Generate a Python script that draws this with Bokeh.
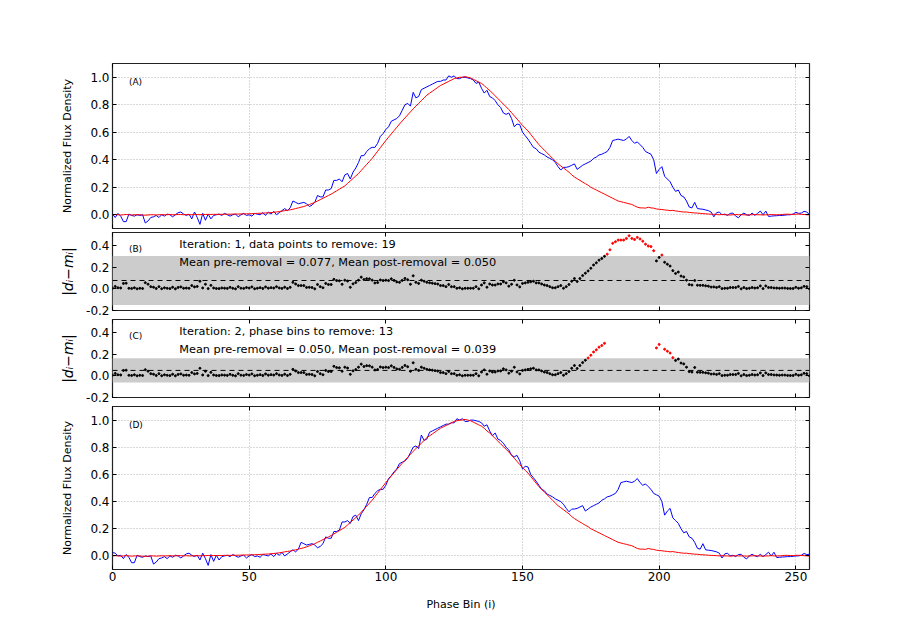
import numpy as np
from bokeh.plotting import figure
from bokeh.models import (Range1d, FixedTicker, PrintfTickFormatter, LinearAxis,
                          BoxAnnotation, Span, Label, ColumnDataSource, Grid)
from bokeh.layouts import column
from bokeh.embed import file_html
from bokeh.resources import INLINE

# ---------------- data ----------------
phase_bin = list(range(256))

flux = [
    0.005, -0.02, 0.01, -0.01, -0.05, -0.05, 0.005, -0.005, -0.01, 0.0,
    -0.005, 0.0, -0.06, -0.045, -0.02, -0.015, -0.005, -0.02, 0.0, -0.01,
    0.005, 0.0, -0.015, 0.0, 0.015, 0.02, 0.005, -0.005, 0.005, -0.03,
    0.02, -0.02, -0.07, 0.01, -0.04, 0.005, -0.03, -0.005, 0.0, 0.005,
    -0.005, 0.01, 0.0, -0.01, 0.0, 0.005, -0.015, 0.0, 0.01, -0.005,
    0.0, -0.01, 0.01, 0.005, 0.0, 0.015, -0.005, 0.02, 0.005, 0.025,
    0.0, 0.015, 0.03, 0.045, 0.03, 0.05, 0.10, 0.09, 0.08, 0.085,
    0.09, 0.08, 0.06, 0.07, 0.09, 0.14, 0.13, 0.13, 0.18, 0.18,
    0.19, 0.25, 0.25, 0.26, 0.24, 0.29, 0.30, 0.26, 0.31, 0.34,
    0.38, 0.43, 0.43, 0.46, 0.48, 0.49, 0.49, 0.52, 0.57, 0.59,
    0.62, 0.64, 0.68, 0.69, 0.70, 0.72, 0.76, 0.80, 0.81, 0.79,
    0.89, 0.85, 0.86, 0.91, 0.92, 0.93, 0.94, 0.95, 0.96, 0.97,
    0.97, 0.98, 0.98, 1.01, 1.00, 1.01, 0.99, 0.99, 1.00, 1.00,
    0.995, 0.99, 0.98, 0.955, 0.965, 0.92, 0.885, 0.905, 0.86, 0.85,
    0.83, 0.80, 0.78, 0.74, 0.73, 0.74, 0.70, 0.64, 0.66, 0.655,
    0.60, 0.575, 0.55, 0.52, 0.49, 0.48, 0.455, 0.445, 0.435, 0.42,
    0.41, 0.40, 0.38, 0.35, 0.325, 0.345, 0.345, 0.35, 0.36, 0.37,
    0.33, 0.345, 0.36, 0.37, 0.38, 0.39, 0.41, 0.42, 0.435, 0.44,
    0.45, 0.46, 0.49, 0.54, 0.545, 0.55, 0.545, 0.54, 0.55, 0.57,
    0.54, 0.52, 0.53, 0.51, 0.49, 0.46, 0.45, 0.44, 0.40, 0.30,
    0.33, 0.35, 0.28, 0.26, 0.24, 0.20, 0.17, 0.18, 0.14, 0.13,
    0.10, 0.056, 0.05, 0.09, 0.045, 0.042, 0.04, 0.035, 0.03, 0.02,
    -0.015, 0.015, 0.02, 0.0, 0.005, -0.005, 0.01, 0.012, -0.01, -0.022,
    0.0, 0.012, 0.0, -0.005, 0.012, -0.005, 0.01, 0.027, 0.0, 0.027,
    -0.012, -0.01, -0.008, -0.007, -0.005, -0.005, -0.003, 0.0, 0.0, 0.005,
    0.018, 0.01, 0.012, 0.025, 0.02, 0.0,
]

template = [
    0.0, 0.002, 0.0, -0.002, 0.0, 0.002, 0.0, -0.002, 0.0, 0.0,
    0.0, -0.003, -0.003, -0.002, 0.0, 0.0, -0.002, 0.0, 0.001, 0.0,
    0.0, 0.002, 0.0, 0.0, 0.002, 0.002, 0.0, 0.002, 0.0, 0.0,
    0.002, 0.002, 0.0, 0.002, 0.002, 0.003, 0.002, 0.003, 0.003, 0.003,
    0.003, 0.004, 0.004, 0.004, 0.005, 0.005, 0.005, 0.006, 0.006, 0.007,
    0.007, 0.008, 0.009, 0.010, 0.011, 0.012, 0.013, 0.014, 0.016, 0.018,
    0.02, 0.023, 0.026, 0.03, 0.033, 0.036, 0.04, 0.045, 0.05, 0.055,
    0.06, 0.067, 0.074, 0.082, 0.09, 0.10, 0.11, 0.12, 0.13, 0.14,
    0.15, 0.162, 0.174, 0.186, 0.198, 0.21, 0.228, 0.246, 0.264, 0.282,
    0.30, 0.322, 0.344, 0.366, 0.388, 0.41, 0.436, 0.462, 0.488, 0.514,
    0.54, 0.564, 0.588, 0.612, 0.636, 0.66, 0.682, 0.704, 0.726, 0.748,
    0.77, 0.79, 0.81, 0.83, 0.85, 0.87, 0.884, 0.898, 0.912, 0.926,
    0.94, 0.95, 0.96, 0.97, 0.98, 0.99, 0.995, 1.0, 1.0, 1.005,
    1.0, 0.995, 0.985, 0.975, 0.965, 0.955, 0.94, 0.92, 0.905, 0.885,
    0.865, 0.845, 0.825, 0.805, 0.785, 0.765, 0.742, 0.719, 0.696, 0.673,
    0.65, 0.63, 0.61, 0.585, 0.56, 0.535, 0.51, 0.49, 0.47, 0.45,
    0.43, 0.41, 0.39, 0.37, 0.355, 0.34, 0.325, 0.31, 0.29, 0.275,
    0.262, 0.25, 0.238, 0.226, 0.215, 0.20, 0.19, 0.18, 0.17, 0.16,
    0.15, 0.14, 0.13, 0.12, 0.11, 0.10, 0.095, 0.09, 0.085, 0.08,
    0.075, 0.065, 0.055, 0.05, 0.05, 0.048, 0.055, 0.05, 0.048, 0.042,
    0.04, 0.038, 0.035, 0.033, 0.03, 0.032, 0.028, 0.025, 0.022, 0.02,
    0.02, 0.017, 0.015, 0.013, 0.012, 0.01, 0.008, 0.007, 0.005, 0.004,
    0.003, 0.002, 0.0, 0.002, 0.0, 0.0, -0.002, 0.0, 0.002, 0.0,
    0.0, 0.0, -0.002, 0.0, 0.0, 0.002, 0.0, 0.0, -0.002, 0.0,
    0.0, 0.002, 0.0, 0.0, 0.0, 0.002, 0.004, 0.004, 0.003, 0.002,
    0.004, 0.005, 0.003, 0.002, 0.0, 0.0,
]

shift_bins = 3                    # rotation of the profile in panel (D)

mean_iter1 = 0.077
band_iter1 = (-0.149, 0.303)
mean_iter2 = 0.050
band_iter2 = (-0.062, 0.162)

x_ticks = [0, 50, 100, 150, 200, 250]
flux_ticks = [0.0, 0.2, 0.4, 0.6, 0.8, 1.0]
resid_ticks = [-0.2, 0.0, 0.2, 0.4]

panel_tags = ["(A)", "(B)", "(C)", "(D)"]
iter_texts = [
    ("Iteration: 1, data points to remove: 19",
     "Mean pre-removal = 0.077, Mean post-removal = 0.050"),
    ("Iteration: 2, phase bins to remove: 13",
     "Mean pre-removal = 0.050, Mean post-removal = 0.039"),
]
flux_label = "Normalized Flux Density"
resid_label = "|d\u1d62\u2212m\u1d62|"
x_label = "Phase Bin (i)"

# ---------------- derived ----------------
x = np.array(phase_bin)
flux_a = np.array(flux)
tmpl = np.array(template)
flux_d = np.roll(flux_a, shift_bins)
resid = np.abs(flux_a - tmpl)
out1 = resid > band_iter1[1]
keep2 = ~out1
out2 = resid > band_iter2[1]

FONT = "DejaVu Sans"
W = 889
x_range = Range1d(0, 255)


def add_axis(p, place, ticks, labels=False, fmt="%.1f", title=None,
             title_style="normal", title_size="11px", title_standoff=13,
             label_standoff=3):
    ax = LinearAxis(ticker=FixedTicker(ticks=ticks, minor_ticks=[]),
                    axis_line_color=None, major_tick_in=4, major_tick_out=0,
                    major_tick_line_color="black", major_tick_line_width=1,
                    minor_tick_line_color=None)
    if labels:
        ax.formatter = PrintfTickFormatter(format=fmt)
        ax.major_label_text_font = FONT
        ax.major_label_text_font_size = "12px"
        ax.major_label_text_color = "black"
        ax.major_label_standoff = label_standoff
    else:
        ax.major_label_text_font_size = "0px"
        ax.major_label_text_color = None
        ax.major_label_standoff = 0
    if title:
        ax.axis_label = title
        ax.axis_label_text_font = FONT
        ax.axis_label_text_font_size = title_size
        ax.axis_label_text_font_style = title_style
        ax.axis_label_text_color = "black"
        ax.axis_label_standoff = title_standoff
    p.add_layout(ax, place)
    return ax


def make_fig(height, yr, yticks, top, bottom, ylabel, ystyle, ysize,
             ystand, show_x, grid):
    p = figure(width=W, height=height, x_range=x_range, y_range=Range1d(*yr),
               output_backend="svg", toolbar_location=None,
               x_axis_location=None, y_axis_location=None,
               min_border_left=112, min_border_right=80,
               min_border_top=top, min_border_bottom=bottom)
    p.center = [r for r in p.center if not isinstance(r, Grid)]
    p.outline_line_color = "#222222"
    p.outline_line_width = 1.2
    p.background_fill_color = "white"
    p.border_fill_color = "white"
    add_axis(p, "left", yticks, labels=True, title=ylabel, title_style=ystyle,
             title_size=ysize, title_standoff=ystand)
    add_axis(p, "right", yticks)
    add_axis(p, "above", x_ticks)
    if show_x:
        add_axis(p, "below", x_ticks, labels=True, fmt="%d", title=x_label,
                 title_standoff=14, label_standoff=2)
    else:
        add_axis(p, "below", x_ticks)
    if grid:
        for dim, t in ((0, x_ticks), (1, yticks)):
            p.add_layout(Grid(dimension=dim, ticker=FixedTicker(ticks=t),
                              grid_line_color="#b3b3b3", grid_line_width=1,
                              grid_line_dash="1 2", level="underlay"))
    return p


def tag(p, txt, y):
    p.add_layout(Label(x=6, y=y, text=txt, text_font=FONT,
                       text_font_size="9px", text_baseline="middle",
                       text_color="black"))


# Panel A
pA = make_fig(230, (-0.1, 1.1), flux_ticks, 63, 2, flux_label, "normal",
              "11px", 13, False, True)
pA.line(x, flux_a, color="blue", line_width=1)
pA.line(x, tmpl, color="red", line_width=1)
tag(pA, panel_tags[0], 0.965)


def resid_panel(height, top, bottom, band, mean, idx, colors, texts, tagtxt):
    p = make_fig(height, (-0.2, 0.52), resid_ticks, top, bottom, resid_label,
                 "italic", "14px", 7, False, False)
    p.add_layout(BoxAnnotation(bottom=band[0], top=band[1],
                               fill_color="#cccccc", fill_alpha=1.0,
                               line_color=None, level="underlay"))
    p.add_layout(Span(location=mean, dimension="width", line_color="black",
                      line_width=1, line_dash="5 4"))
    src = ColumnDataSource(dict(x=x[idx], y=resid[idx], c=colors))
    p.scatter("x", "y", source=src, marker="circle", size=2.0,
              fill_color="c", line_color="c")
    for t, yy in zip(texts, (0.405, 0.244)):
        p.add_layout(Label(x=24.4, y=yy, text=t, text_font=FONT,
                           text_font_size="11.3px", text_baseline="middle",
                           text_color="black"))
    tag(p, tagtxt, 0.37)
    return p


idxB = np.arange(256)
colB = ["red" if o else "black" for o in out1]
pB = resid_panel(88, 2, 8, band_iter1, mean_iter1, idxB, colB,
                 iter_texts[0], panel_tags[1])

idxC = np.where(keep2)[0]
colC = ["red" if out2[i] else "black" for i in idxC]
pC = resid_panel(87, 1, 8, band_iter2, mean_iter2, idxC, colC,
                 iter_texts[1], panel_tags[2])

# Panel D
pD = make_fig(214, (-0.1, 1.1), flux_ticks, 1, 50, flux_label, "normal",
              "11px", 13, True, True)
pD.line(x, flux_d, color="blue", line_width=1)
pD.line(x, tmpl, color="red", line_width=1)
tag(pD, panel_tags[3], 0.965)

layout = column(pA, pB, pC, pD, spacing=0)
open("out.html", "w").write(file_html(layout, INLINE))
